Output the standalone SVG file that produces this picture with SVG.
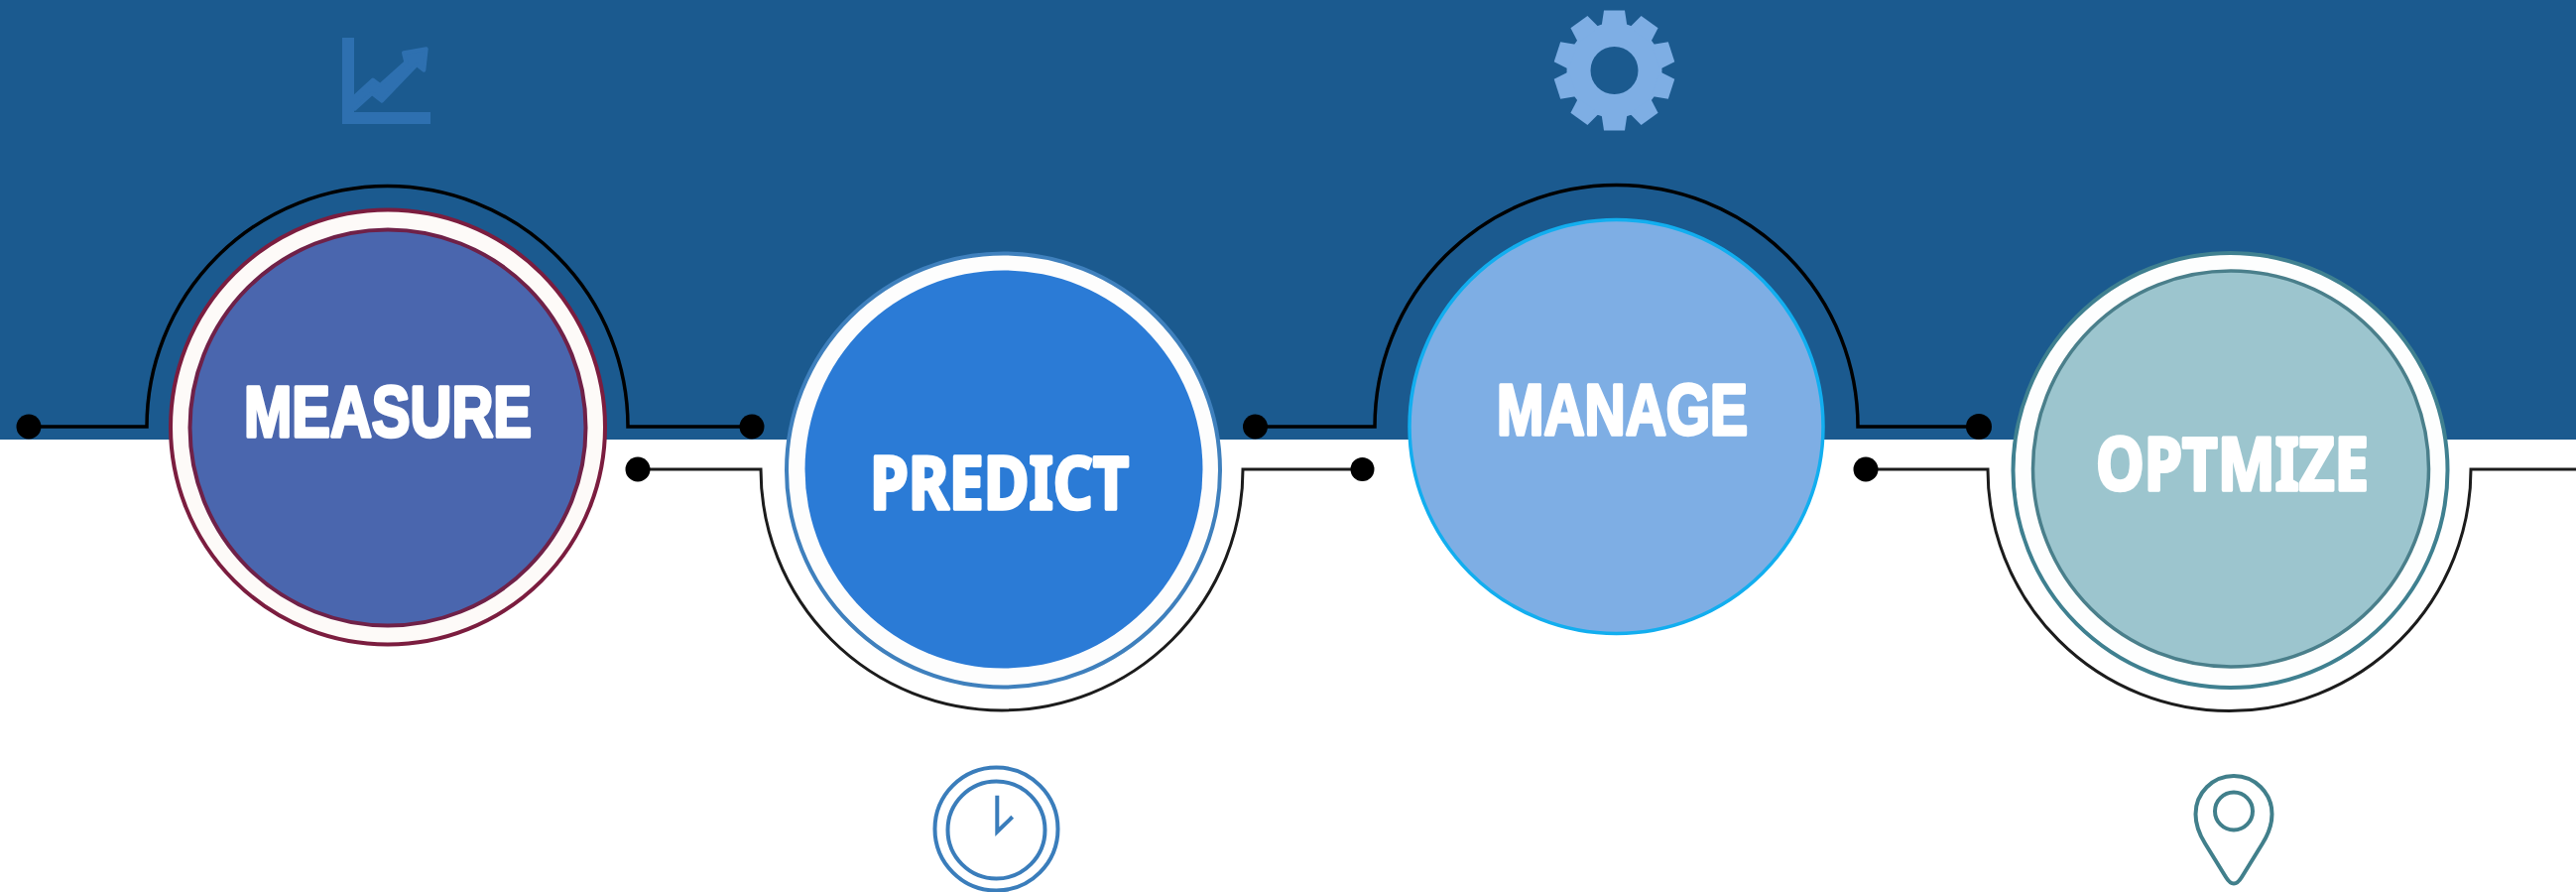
<svg xmlns="http://www.w3.org/2000/svg" width="2597" height="899" viewBox="0 0 2597 899">
<style>
.wire{fill:none;stroke:#000;stroke-width:3.5}
.wire2{fill:none;stroke:#1c1c1c;stroke-width:3}
.dot{fill:#000}
.lbl{font-family:"Liberation Sans",Arial,sans-serif;font-weight:700;font-size:72px;fill:#fff;stroke:#fff;stroke-width:3.500;stroke-linejoin:round}
.lbl2{font-family:"Noto Sans","DejaVu Sans",sans-serif;font-weight:700;font-size:73px;fill:#fff;stroke:#fff;stroke-width:3.500;stroke-linejoin:round}
</style>
<defs>
<path id="tooth" d="M-10.500 -60.500H10.500L13 -44H-13Z"/>
</defs>
<rect id="canvas" x="0" y="0" width="2597" height="899" fill="#fff"/>
<rect id="band" x="0" y="0" width="2597" height="443" fill="#1b5a8f"/>
<g id="connectors">
<path class="wire" d="M29 430H148A242.500 242.500 0 0 1 633 430H758"/>
<path class="wire" d="M1265.500 430H1386A243.500 243.500 0 0 1 1873 430H1995"/>
<path class="wire2" d="M643 473H767A243 243 0 0 0 1253 473H1373.500"/>
<path class="wire2" d="M1881 473H2004A243.500 243.500 0 0 0 2491 473H2597"/>
<circle class="dot" cx="29" cy="430" r="12.500"/>
<circle class="dot" cx="758" cy="430" r="12.500"/>
<circle class="dot" cx="1265.500" cy="430" r="12.500"/>
<circle class="dot" cx="1995" cy="430" r="13"/>
<circle class="dot" cx="643" cy="473" r="12.500"/>
<circle class="dot" cx="1373.500" cy="473" r="12"/>
<circle class="dot" cx="1881" cy="473" r="12.500"/>
</g>
<g id="node-measure">
<circle cx="391" cy="430.500" r="219" fill="#fdfaf8" stroke="#7b1d3f" stroke-width="4"/>
<circle cx="391" cy="431" r="199.500" fill="#4a66ae" stroke="#6f2148" stroke-width="4"/>
<text class="lbl" x="246" y="440" textLength="290" lengthAdjust="spacingAndGlyphs">MEASURE</text>
<g id="icon-chart" fill="#2e70b0">
<path d="M345 38H357V113H434V125H345Z"/>
<path stroke="#2e70b0" stroke-width="4" stroke-linejoin="round" d="M357.500 97.500L376 80.500L383.300 86L409.300 62.700L407 53.300L429.700 49.300L427.300 70.700L420 65L385 101.700L375 94L357.500 109.700Z"/>
</g>
</g>
<g id="node-predict">
<circle cx="1011.500" cy="474" r="218.500" fill="#fdfdfd" stroke="#3f80bd" stroke-width="4"/>
<circle cx="1012" cy="473" r="200.500" fill="#2b7bd6"/>
<text class="lbl2" x="877" y="513" textLength="261" lengthAdjust="spacingAndGlyphs">PREDICT</text>
<g id="icon-clock" fill="none" stroke="#3a7dbb" stroke-width="4">
<circle cx="1004.500" cy="835.500" r="62"/>
<circle cx="1004.500" cy="836.500" r="49"/>
<path d="M1005.300 801.700V838.300L1020.700 823.300"/>
</g>
</g>
<g id="node-manage">
<circle cx="1629.500" cy="430" r="208.500" fill="#7eaee4" stroke="#12aeef" stroke-width="3.500"/>
<text class="lbl" x="1509" y="438" textLength="253" lengthAdjust="spacingAndGlyphs">MANAGE</text>
<g id="icon-gear" fill="#7eaee4" transform="translate(1627.500 71)">
<circle r="48"/>
<use href="#tooth"/>
<use href="#tooth" transform="rotate(36)"/>
<use href="#tooth" transform="rotate(72)"/>
<use href="#tooth" transform="rotate(108)"/>
<use href="#tooth" transform="rotate(144)"/>
<use href="#tooth" transform="rotate(180)"/>
<use href="#tooth" transform="rotate(216)"/>
<use href="#tooth" transform="rotate(252)"/>
<use href="#tooth" transform="rotate(288)"/>
<use href="#tooth" transform="rotate(324)"/>
<circle r="24" fill="#1b5a8f"/>
</g>
</g>
<g id="node-optimize">
<circle cx="2248.500" cy="474" r="219" fill="#fdfefe" stroke="#3f8090" stroke-width="4"/>
<circle cx="2249" cy="472.500" r="199.500" fill="#9cc5ce" stroke="#4a7f8b" stroke-width="3.500"/>
<text class="lbl2" x="2113" y="493.500" textLength="275" lengthAdjust="spacingAndGlyphs">OPTMIZE</text>
<g id="icon-pin" fill="none" stroke="#417f8b" stroke-width="4">
<path d="M2252 782A38.500 38.500 0 0 1 2290.500 820.500C2290.500 830 2286 842 2281 850L2260 884Q2252 897 2244 884L2223 850C2218 842 2213.500 830 2213.500 820.500A38.500 38.500 0 0 1 2252 782Z"/>
<circle cx="2252" cy="817.500" r="19"/>
</g>
</g>
</svg>
